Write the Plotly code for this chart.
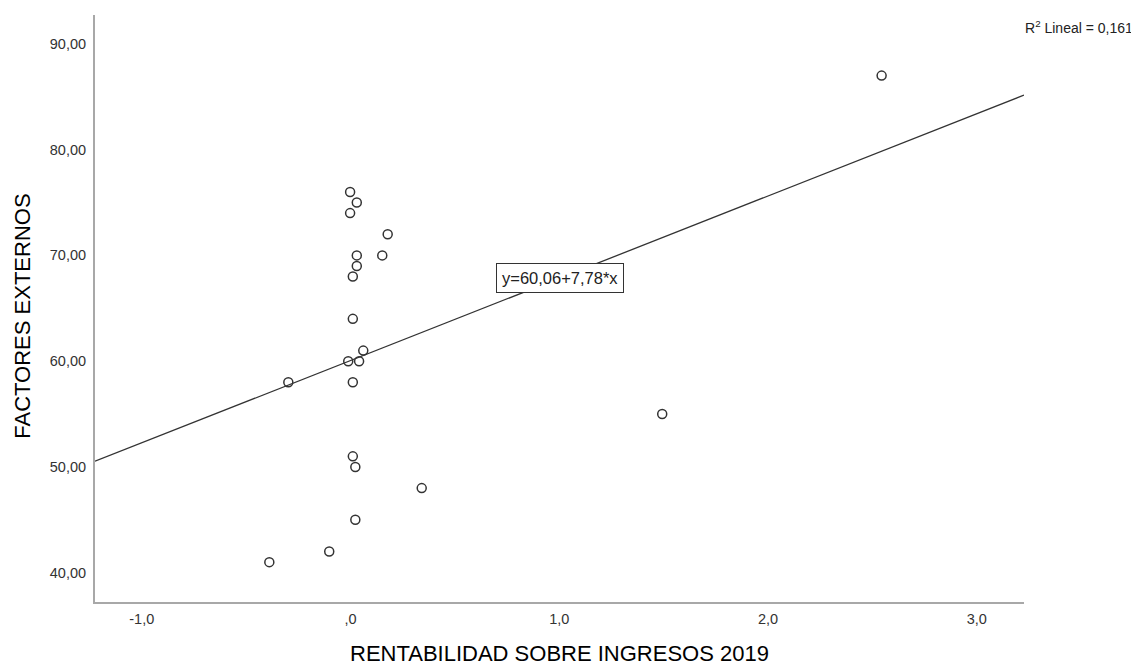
import plotly.graph_objects as go

# Data
rentabilidad = [-0.002, 0.030, -0.002, 0.178, 0.030, 0.152, 0.030, 0.011, 0.011, 0.061,
                -0.011, 0.041, -0.298, 0.011, 0.011, 0.023, 0.023, -0.102, -0.389, 0.341,
                1.493, 2.544]
factores = [76, 75, 74, 72, 70, 70, 69, 68, 64, 61,
            60, 60, 58, 58, 51, 50, 45, 42, 41, 48,
            55, 87]

intercept = 60.06
slope = 7.78
r2_text = "R<sup>2</sup> Lineal = 0,161"
eq_text = "y=60,06+7,78*x"

x_tickvals = [-1, 0, 1, 2, 3]
x_ticktext = ["-1,0", ",0", "1,0", "2,0", "3,0"]
y_tickvals = [40, 50, 60, 70, 80, 90]
y_ticktext = ["40,00", "50,00", "60,00", "70,00", "80,00", "90,00"]

x_range = [-1.224, 3.226]
y_range = [37.23, 92.73]

line_x = x_range
line_y = [intercept + slope * v for v in line_x]

FONT = "Arial, Liberation Sans, sans-serif"

fig = go.Figure()
fig.add_trace(go.Scatter(
    x=rentabilidad, y=factores, mode="markers",
    marker=dict(symbol="circle-open", size=9, color="#333333", line=dict(width=1.5, color="#333333")),
    showlegend=False, hoverinfo="x+y"))
fig.add_trace(go.Scatter(
    x=line_x, y=line_y, mode="lines",
    line=dict(color="#333333", width=1.3),
    showlegend=False, hoverinfo="skip"))

# page body has an 8px margin, so the figure is 8px smaller and offset
fig.update_layout(
    width=1131, height=659,
    margin=dict(l=87, r=115, t=7, b=65),
    paper_bgcolor="white", plot_bgcolor="white",
    font=dict(family=FONT, size=14, color="#333333"),
    xaxis=dict(range=x_range, tickvals=x_tickvals, ticktext=x_ticktext,
               showgrid=False, zeroline=False, showline=True, linecolor="#a8a8a8", linewidth=2,
               ticks="", ticklabelstandoff=3, tickfont=dict(size=14.5, color="#333333")),
    yaxis=dict(range=y_range, tickvals=y_tickvals, ticktext=y_ticktext,
               showgrid=False, zeroline=False, showline=True, linecolor="#a8a8a8", linewidth=2,
               ticks="", ticklabelstandoff=4, tickfont=dict(size=14.5, color="#333333")),
    annotations=[
        dict(text=eq_text, x=1.003, y=67.85, xref="x", yref="y", showarrow=False,
             font=dict(family=FONT, size=16.5, color="#222222"),
             bgcolor="white", bordercolor="#333333", borderwidth=1, borderpad=5,
             xanchor="center", yanchor="middle"),
        dict(text=r2_text, x=1.1195, y=0.9795, xref="paper", yref="paper", showarrow=False,
             font=dict(family=FONT, size=14, color="#222222"), xanchor="right", yanchor="middle"),
        dict(text="RENTABILIDAD SOBRE INGRESOS 2019", x=0.5, y=-0.0883, xref="paper", yref="paper",
             showarrow=False, font=dict(family=FONT, size=22, color="#000000"),
             xanchor="center", yanchor="middle"),
        dict(text="FACTORES EXTERNOS", x=-0.0775, y=0.486, xref="paper", yref="paper",
             showarrow=False, textangle=-90, font=dict(family=FONT, size=22, color="#000000"),
             xanchor="center", yanchor="middle"),
    ],
)

fig.write_html("out.html")
